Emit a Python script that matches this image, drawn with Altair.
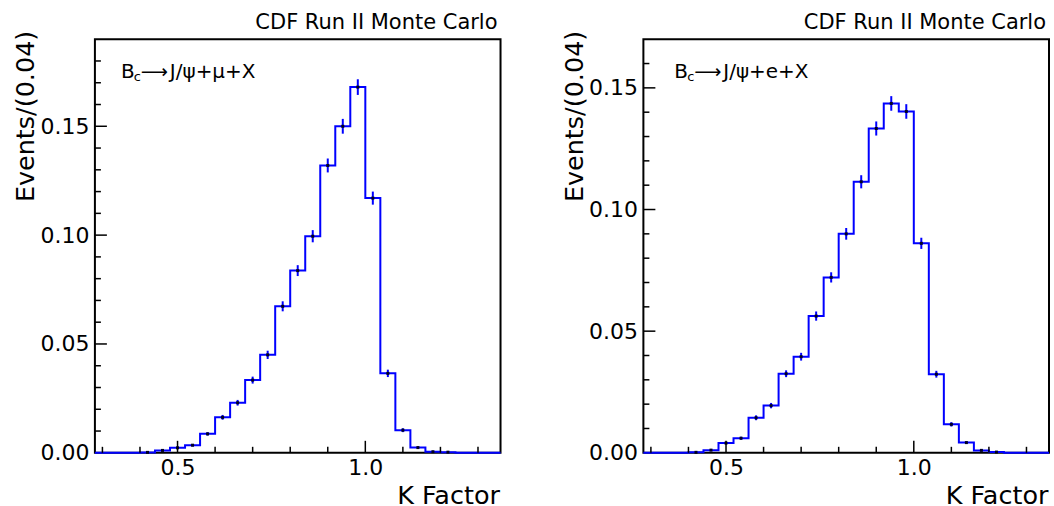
import altair as alt
import pandas as pd

FONT = "DejaVu Sans"
BLUE = "#0000ff"

# Histogram binning (K factor, bin width 0.04)
bin_lo = [0.28, 0.32, 0.36, 0.40, 0.44, 0.48, 0.52, 0.56, 0.60, 0.64, 0.68, 0.72, 0.76,
          0.80, 0.84, 0.88, 0.92, 0.96, 1.00, 1.04, 1.08, 1.12, 1.16, 1.20, 1.24, 1.28, 1.32]
x_max = 1.36
bin_center = [0.30, 0.34, 0.38, 0.42, 0.46, 0.50, 0.54, 0.58, 0.62, 0.66, 0.70, 0.74, 0.78,
              0.82, 0.86, 0.90, 0.94, 0.98, 1.02, 1.06, 1.10, 1.14, 1.18, 1.22, 1.26, 1.30, 1.34]

# Bc -> J/psi + mu + X
mu_vals = [0, 0, 0, 0.0002, 0.0011, 0.0023, 0.0035, 0.0087, 0.0163, 0.0230, 0.0334, 0.0450, 0.0673,
           0.0837, 0.0995, 0.1320, 0.1500, 0.1680, 0.1170, 0.0365, 0.0104, 0.0024, 0.0005, 0.0003, 0, 0, 0]
mu_errs = [0, 0, 0, 0.0001, 0.0003, 0.0004, 0.0005, 0.0008, 0.0011, 0.0013, 0.0016, 0.0019, 0.0023,
           0.0025, 0.0028, 0.0032, 0.0034, 0.0036, 0.0030, 0.0017, 0.0009, 0.0004, 0.0002, 0.00015, 0, 0, 0]

# Bc -> J/psi + e + X
e_vals = [0, 0, 0, 0.0002, 0.0011, 0.0040, 0.0060, 0.0144, 0.0194, 0.0325, 0.0395, 0.0562, 0.0721,
          0.0900, 0.1114, 0.1333, 0.1436, 0.1403, 0.0861, 0.0323, 0.0117, 0.0042, 0.0010, 0.0003, 0, 0, 0]
e_errs = [0, 0, 0, 0.0001, 0.0003, 0.0005, 0.0006, 0.0010, 0.0011, 0.0014, 0.0016, 0.0019, 0.0021,
          0.0024, 0.0027, 0.0029, 0.0030, 0.0030, 0.0023, 0.0014, 0.0009, 0.0005, 0.0003, 0.00015, 0, 0, 0]

x_major = [0.5, 1.0]
x_minor = [0.3, 0.4, 0.6, 0.7, 0.8, 0.9, 1.1, 1.2, 1.3]
x_labels = [0.5, 1.0]

y_labels = [0.0, 0.05, 0.10, 0.15]
y_major = [0.05, 0.10, 0.15]
mu_y_minor = [0.01, 0.02, 0.03, 0.04, 0.06, 0.07, 0.08, 0.09, 0.11, 0.12, 0.13, 0.14, 0.16, 0.17, 0.18]
e_y_minor = [0.01, 0.02, 0.03, 0.04, 0.06, 0.07, 0.08, 0.09, 0.11, 0.12, 0.13, 0.14, 0.16]

W, H = 406, 414
LEFT, TOP = 94, 38


def txt(s, x, y, size, align="left", font=FONT):
    return alt.Chart(pd.DataFrame({"t": [s]})).mark_text(
        align=align, baseline="alphabetic", font=font, fontSize=size, color="black").encode(
        x=alt.value(x), y=alt.value(y), text="t:N")


def panel(vals, errs, ymax, y_minor, decay_rest, label_x, anchor=False):
    xs = alt.Scale(domain=[0.28, x_max], nice=False, zero=False)
    ys = alt.Scale(domain=[0, ymax], nice=False, zero=False)
    x_axis = alt.Axis(values=x_labels, format=".1f", ticks=False, tickSize=0, domain=False, grid=False,
                      labelFont=FONT, labelFontSize=22, labelPadding=5, labelColor="black",
                      title="K Factor", titleFont=FONT, titleFontSize=25.5, titleFontWeight="normal",
                      titleColor="black", titleAlign="right", titleBaseline="alphabetic",
                      titleX=W - 1, titleY=51)
    y_axis = alt.Axis(values=y_labels, format=".2f", ticks=False, tickSize=0, domain=False, grid=False,
                      labelFont=FONT, labelFontSize=22, labelPadding=6, labelColor="black",
                      title="Events/(0.04)", titleFont=FONT, titleFontSize=25.5, titleFontWeight="normal",
                      titleColor="black", titleAngle=270, titleAlign="right", titleBaseline="alphabetic",
                      titleX=-61, titleY=-9)

    step_df = pd.DataFrame({"x": bin_lo + [x_max], "y": vals + [vals[-1]]})
    pts = pd.DataFrame({"c": bin_center, "v": vals, "e": errs})
    pts = pts[pts["v"] > 0].copy()
    pts["lo"] = pts["v"] - pts["e"]
    pts["hi"] = pts["v"] + pts["e"]

    line = alt.Chart(step_df).mark_line(interpolate="step-after", color=BLUE, strokeWidth=2).encode(
        x=alt.X("x:Q", scale=xs, axis=x_axis),
        y=alt.Y("y:Q", scale=ys, axis=y_axis),
    )
    err = alt.Chart(pts).mark_rule(color=BLUE, strokeWidth=2).encode(
        x=alt.X("c:Q", scale=xs, axis=x_axis),
        y=alt.Y("lo:Q", scale=ys, axis=y_axis),
        y2="hi:Q",
    )
    dots = alt.Chart(pts).mark_point(shape="square", filled=True, size=9, color="#000022", opacity=1).encode(
        x=alt.X("c:Q", scale=xs, axis=x_axis),
        y=alt.Y("v:Q", scale=ys, axis=y_axis),
    )
    xmaj = alt.Chart(pd.DataFrame({"t": x_major})).mark_rule(color="black", strokeWidth=1.5).encode(
        x=alt.X("t:Q", scale=xs, axis=x_axis), y=alt.value(H), y2=alt.value(H - 12))
    xmin = alt.Chart(pd.DataFrame({"t": x_minor})).mark_rule(color="black", strokeWidth=1.5).encode(
        x=alt.X("t:Q", scale=xs, axis=x_axis), y=alt.value(H), y2=alt.value(H - 6))
    ymaj = alt.Chart(pd.DataFrame({"t": y_major})).mark_rule(color="black", strokeWidth=1.5).encode(
        y=alt.Y("t:Q", scale=ys, axis=y_axis), x=alt.value(0), x2=alt.value(12))
    ymin = alt.Chart(pd.DataFrame({"t": y_minor})).mark_rule(color="black", strokeWidth=1.5).encode(
        y=alt.Y("t:Q", scale=ys, axis=y_axis), x=alt.value(0), x2=alt.value(6))

    layers = [line, err, dots, xmaj, xmin, ymaj, ymin,
              txt("CDF Run II Monte Carlo", W - 3, -10, 21, align="right"),
              txt("B", label_x, 39, 20),
              txt("c", label_x + 13, 42, 13),
              txt("⟶", label_x + 20, 39, 19),
              txt(decay_rest, label_x + 49, 39, 20)]
    if anchor:
        # invisible corner that fixes the page origin of the plot frame
        corner = alt.Chart(pd.DataFrame({"t": [0]})).mark_rect(opacity=0).encode(
            x=alt.value(-LEFT), x2=alt.value(-LEFT + 1), y=alt.value(-TOP), y2=alt.value(-TOP + 1))
        layers.append(corner)
    return alt.layer(*layers).properties(width=W, height=H)


left = panel(mu_vals, mu_errs, 0.19, mu_y_minor, "J/ψ+μ+X", 26, anchor=True)
right = panel(e_vals, e_errs, 0.17, e_y_minor, "J/ψ+e+X", 31)

chart = alt.hconcat(left, right, spacing=143, bounds="flush").properties(
    padding={"left": 0, "top": 0, "right": 0, "bottom": 0},
    background="white",
).configure_view(stroke="black", strokeWidth=2)

chart.save("out.html", embed_options={"renderer": "svg", "actions": False})
